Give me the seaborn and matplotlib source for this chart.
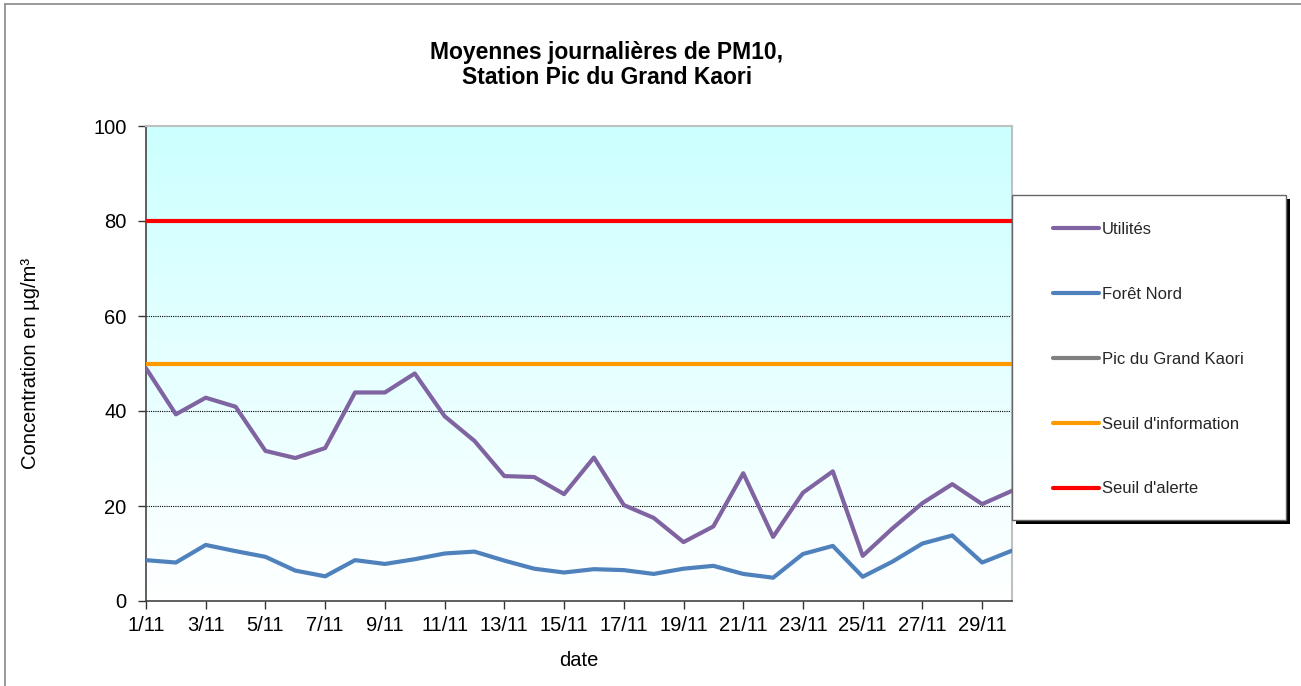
import numpy as np
import pandas as pd
import matplotlib
matplotlib.use("Agg")
import matplotlib.pyplot as plt
import seaborn as sns
from matplotlib.colors import LinearSegmentedColormap
from matplotlib.lines import Line2D
from matplotlib.patches import Rectangle

# Données
jours = list(range(1, 31))
etiquettes = [f"{j}/11" for j in range(1, 31, 2)]
utilites = [49.0, 39.3, 42.8, 40.9, 31.6, 30.1, 32.2, 43.9, 43.9, 47.9,
            38.9, 33.7, 26.3, 26.1, 22.5, 30.2, 20.2, 17.5, 12.4, 15.7,
            26.9, 13.5, 22.8, 27.3, 9.5, 15.3, 20.6, 24.6, 20.4, 23.2]
foret_nord = [8.6, 8.1, 11.8, 10.5, 9.3, 6.4, 5.2, 8.6, 7.8, 8.8,
              10.0, 10.4, 8.5, 6.8, 6.0, 6.7, 6.5, 5.7, 6.8, 7.4,
              5.7, 4.9, 9.9, 11.6, 5.1, 8.3, 12.1, 13.8, 8.1, 10.6]
pic_grand_kaori = [np.nan] * 30
seuil_information = 50
seuil_alerte = 80

series = ["Utilités", "Forêt Nord", "Pic du Grand Kaori",
          "Seuil d'information", "Seuil d'alerte"]
couleurs = ["#8064A2", "#4F81BD", "#808080", "#FF9900", "#FF0000"]

df = pd.DataFrame({
    "jour": jours * 5,
    "valeur": utilites + foret_nord + pic_grand_kaori
              + [seuil_information] * 30 + [seuil_alerte] * 30,
    "serie": sum([[s] * 30 for s in series], []),
})

sns.set_style("white")
plt.rcParams["font.family"] = ["Liberation Sans", "DejaVu Sans"]

W, H = 1301, 686
fig = plt.figure(figsize=(W / 100, H / 100), dpi=100)
ax = fig.add_axes([146 / W, 1 - 601 / H, (1012 - 146) / W, (601 - 126) / H])

# fond dégradé cyan -> blanc
cmap = LinearSegmentedColormap.from_list("fond", ["#FFFFFF", "#CCFFFF"])
grad = np.linspace(1, 0, 256).reshape(-1, 1)
ax.imshow(grad, extent=[1, 30, 0, 100], aspect="auto", cmap=cmap, zorder=0)

for y in [20, 40, 60]:
    ax.axhline(y, color="black", lw=0.8, ls=(0, (1, 1)), zorder=1)

ordre = ["Seuil d'alerte", "Seuil d'information", "Forêt Nord", "Utilités"]
sub = df[df["serie"].isin(ordre)]
sns.lineplot(data=sub, x="jour", y="valeur", hue="serie", hue_order=series,
             palette=couleurs, linewidth=3, ax=ax, legend=False, zorder=3)

ax.set_xlim(1, 30)
ax.set_ylim(0, 100)
ax.set_xticks(range(1, 31, 2))
ax.set_xticklabels(etiquettes)
ax.set_yticks(range(0, 101, 20))
ax.tick_params(axis="both", labelsize=14.5, direction="out", length=6,
               width=1, color="#333333", left=True, bottom=True,
               labelcolor="black")
ax.tick_params(axis="x", pad=5)
ax.tick_params(axis="y", pad=8)
for s in ["left", "bottom"]:
    ax.spines[s].set_color("#444444")
    ax.spines[s].set_linewidth(1.2)
for s in ["top", "right"]:
    ax.spines[s].set_color("#C0C0C0")
    ax.spines[s].set_linewidth(1.5)

ax.set_xlabel("date", fontsize=14.5, labelpad=11, color="black")
ax.set_ylabel("Concentration en µg/m³", fontsize=14.5, labelpad=38,
              color="black")

fig.text(607 / W, 1 - 41 / H,
         "Moyennes journalières de PM10,\nStation Pic du Grand Kaori",
         ha="center", va="top", fontsize=16.5, fontweight="bold",
         linespacing=1.12, color="black")

# cadre extérieur (gauche et haut)
fig.add_artist(Line2D([5 / W, 5 / W], [0, 1 - 4 / H], color="#888888",
                      lw=1.2, transform=fig.transFigure))
fig.add_artist(Line2D([5 / W, 1], [1 - 4 / H, 1 - 4 / H], color="#888888",
                      lw=1.2, transform=fig.transFigure))

# cadre de la légende avec ombre
fig.add_artist(Rectangle((1016 / W, 1 - 524 / H), 274 / W, 325 / H,
                         transform=fig.transFigure, facecolor="black",
                         edgecolor="none", zorder=5))
fig.add_artist(Rectangle((1012 / W, 1 - 520 / H), 274 / W, 325 / H,
                         transform=fig.transFigure, facecolor="white",
                         edgecolor="#666666", lw=1, zorder=6))

poignees = [Line2D([], [], color=c, lw=3, solid_capstyle="round")
            for c in couleurs]
leg = fig.legend(poignees, series, loc="upper left",
                 bbox_to_anchor=(1053 / W, 1 - 222 / H),
                 frameon=False, fontsize=12, handlelength=2.75,
                 handletextpad=0.2, labelspacing=2.99, borderpad=0,
                 borderaxespad=0)
leg.set_zorder(7)

fig.savefig("out.png", dpi=100)
